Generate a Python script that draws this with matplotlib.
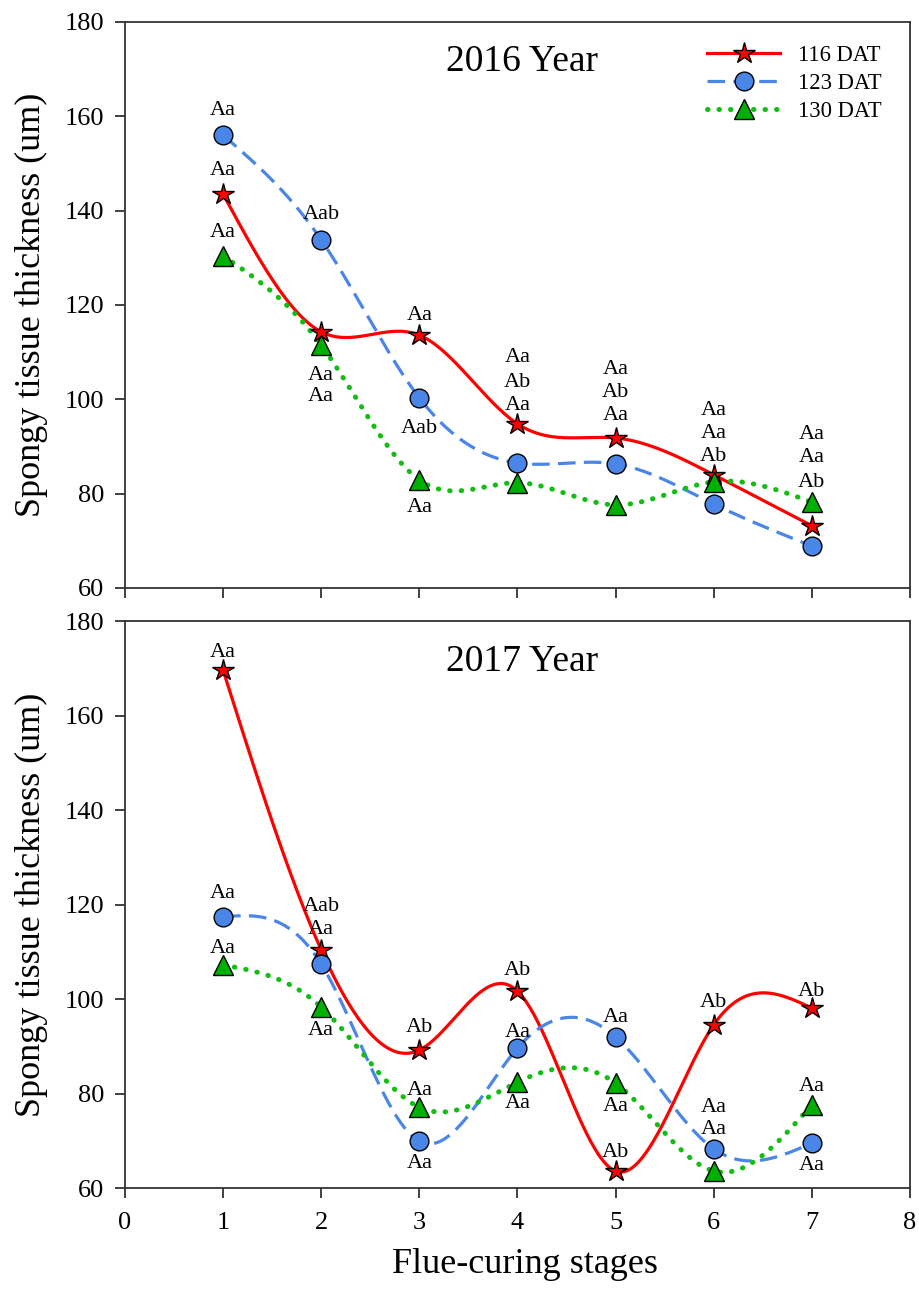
import numpy as np
import matplotlib
matplotlib.use('Agg')
import matplotlib.pyplot as plt

plt.rcParams['font.family'] = ['Liberation Serif', 'DejaVu Serif']

stages = [1, 2, 3, 4, 5, 6, 7]
series_names = ['116 DAT', '123 DAT', '130 DAT']

# 2016
y2016_116 = [143.5, 114.3, 113.6, 94.8, 91.8, 84.0, 73.2]
y2016_123 = [156.0, 133.8, 100.3, 86.5, 86.3, 77.8, 68.9]
y2016_130 = [130.4, 111.5, 82.9, 82.3, 77.6, 82.5, 78.2]

# 2017
y2017_116 = [169.6, 110.4, 89.2, 101.7, 63.6, 94.5, 98.1]
y2017_123 = [117.4, 107.4, 69.9, 89.6, 92.0, 68.3, 69.5]
y2017_130 = [107.2, 98.3, 77.1, 82.4, 82.2, 63.6, 77.6]

# significance letters: (stage, series index, text, offset in points)
labels2016 = [
    (1, 1, 'Aa', 18), (1, 0, 'Aa', 17), (1, 2, 'Aa', 17),
    (2, 1, 'Aab', 18), (2, 2, 'Aa', -22), (2, 2, 'Aa', -37),
    (3, 0, 'Aa', 14), (3, 1, 'Aab', -22), (3, 2, 'Aa', -20),
    (4, 0, 'Aa', 48), (4, 0, 'Ab', 30), (4, 0, 'Aa', 13),
    (5, 0, 'Aa', 49), (5, 0, 'Ab', 33), (5, 0, 'Aa', 16),
    (6, 0, 'Aa', 46), (6, 0, 'Aa', 30), (6, 0, 'Ab', 13),
    (7, 2, 'Aa', 49), (7, 2, 'Aa', 32), (7, 2, 'Ab', 14),
]
labels2017 = [
    (1, 0, 'Aa', 13), (1, 1, 'Aa', 17), (1, 2, 'Aa', 12),
    (2, 0, 'Aab', 31), (2, 0, 'Aa', 15), (2, 2, 'Aa', -17),
    (3, 0, 'Ab', 16), (3, 2, 'Aa', 12), (3, 1, 'Aa', -16),
    (4, 0, 'Ab', 15), (4, 1, 'Aa', 11.5), (4, 2, 'Aa', -15),
    (5, 1, 'Aa', 14), (5, 2, 'Aa', -17), (5, 0, 'Ab', 13),
    (6, 0, 'Ab', 16), (6, 1, 'Aa', 30), (6, 1, 'Aa', 14),
    (7, 0, 'Ab', 12), (7, 2, 'Aa', 13), (7, 1, 'Aa', -16),
]

colors = ['#FF0000', '#4A86E8', '#12BE12']
fills = ['#FF0000', '#4A86E8', '#00B000']
markers = ['*', 'o', '^']
msizes = [16, 13.5, 14.5]
styles = ['-', (0, (5.5, 2.6)), (0, (0.1, 2.2))]
widths = [2.3, 2.3, 3.6]


def natural_spline(x, y, n=300):
    x = np.asarray(x, float)
    y = np.asarray(y, float)
    k = len(x)
    h = np.diff(x)
    A = np.zeros((k, k))
    b = np.zeros(k)
    A[0, 0] = 1
    A[-1, -1] = 1
    for i in range(1, k - 1):
        A[i, i - 1] = h[i - 1]
        A[i, i] = 2 * (h[i - 1] + h[i])
        A[i, i + 1] = h[i]
        b[i] = 3 * ((y[i + 1] - y[i]) / h[i] - (y[i] - y[i - 1]) / h[i - 1])
    c = np.linalg.solve(A, b)
    bb = (y[1:] - y[:-1]) / h - h * (2 * c[:-1] + c[1:]) / 3
    d = (c[1:] - c[:-1]) / (3 * h)
    xs = np.linspace(x[0], x[-1], n)
    idx = np.clip(np.searchsorted(x, xs) - 1, 0, k - 2)
    t = xs - x[idx]
    ys = y[idx] + bb[idx] * t + c[idx] * t ** 2 + d[idx] * t ** 3
    return xs, ys


fig = plt.figure(figsize=(9.19, 12.97), dpi=100)
ax1 = fig.add_axes([0.136, 0.5467, 0.854, 0.4364])
ax2 = fig.add_axes([0.136, 0.0840, 0.854, 0.4372])


def draw_panel(ax, data, labels, title, show_xlabels):
    for i, yv in enumerate(data):
        xs, ys = natural_spline(stages, yv)
        ax.plot(xs, ys, color=colors[i], lw=widths[i], linestyle=styles[i],
                dash_capstyle='round' if i == 2 else 'butt', zorder=2)
        ax.plot(stages, yv, linestyle='none', marker=markers[i], ms=msizes[i],
                mfc=fills[i], mec='black', mew=1.0, zorder=3)
    for st, si, txt, off in labels:
        ax.annotate(txt, (st, data[si][st - 1]), xytext=(0, off),
                    textcoords='offset points', ha='center', va='center',
                    fontsize=16, zorder=4)
    ax.text(0.506, 0.929, title, transform=ax.transAxes, ha='center',
            va='center', fontsize=27)
    ax.set_xlim(0, 8)
    ax.set_ylim(60, 180)
    ax.set_xticks(range(0, 9))
    ax.set_yticks(range(60, 181, 20))
    ax.tick_params(direction='out', length=7, width=1.3, labelsize=19,
                   color='#333333')
    ax.tick_params(axis='y', pad=8)
    ax.tick_params(axis='x', pad=10)
    if not show_xlabels:
        ax.set_xticklabels([])
    for s in ax.spines.values():
        s.set_linewidth(1.3)
        s.set_color('#333333')
    ax.set_ylabel('Spongy tissue thickness (um)', fontsize=26, labelpad=12)


draw_panel(ax1, [y2016_116, y2016_123, y2016_130], labels2016, '2016 Year', False)
draw_panel(ax2, [y2017_116, y2017_123, y2017_130], labels2017, '2017 Year', True)

handles = []
for i in range(3):
    h, = ax1.plot([], [], color=colors[i], lw=widths[i], linestyle=styles[i],
                  dash_capstyle='round' if i == 2 else 'butt',
                  marker=markers[i], ms=msizes[i], mfc=fills[i], mec='black', mew=1.0)
    handles.append(h)
ax1.legend(handles, series_names, loc='upper right', bbox_to_anchor=(0.99, 0.995),
           frameon=False, fontsize=16.3, handlelength=3.2, handletextpad=0.8,
           labelspacing=0.3)

fig.text(0.571, 0.025, 'Flue-curing stages', ha='center', va='center', fontsize=26)

fig.savefig('out.png', dpi=100)
